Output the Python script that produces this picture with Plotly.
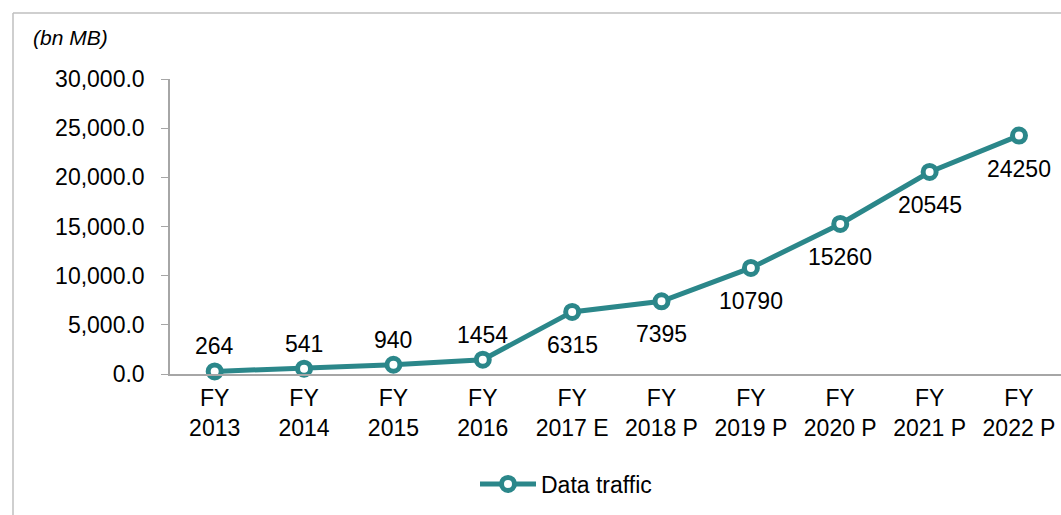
import plotly.graph_objects as go

categories = ["FY<br>2013", "FY<br>2014", "FY<br>2015", "FY<br>2016", "FY<br>2017 E",
              "FY<br>2018 P", "FY<br>2019 P", "FY<br>2020 P", "FY<br>2021 P", "FY<br>2022 P"]
values = [264, 541, 940, 1454, 6315, 7395, 10790, 15260, 20545, 24250]
label_above = [True] * 4 + [False] * 6
series_name = "Data traffic"
unit_label = "(bn MB)"

teal = "#2B878A"
W, H = 1061, 515
ml, mr, mt, mb = 170, 0, 79, 141
pw = W - ml - mr
ph = H - mt - mb
FS = 23

xs = list(range(len(categories)))

fig = go.Figure()
fig.add_trace(go.Scatter(
    x=xs, y=values, name=series_name,
    mode="lines+markers",
    line=dict(color=teal, width=5),
    marker=dict(symbol="circle", size=13, color="white", line=dict(color=teal, width=5)),
    cliponaxis=False,
))

annotations = [dict(
    x=x, y=v, xref="x", yref="y", text=str(v), showarrow=False,
    xanchor="center", yanchor="middle", yshift=25 if up else -33,
    font=dict(family="Liberation Sans, Arial", size=FS, color="#000000"),
) for x, v, up in zip(xs, values, label_above)]

annotations.append(dict(
    text="<i>" + unit_label + "</i>", xref="paper", yref="paper",
    x=(31 - ml) / pw, y=(H - mb - 37) / ph, xanchor="left", yanchor="middle",
    showarrow=False, font=dict(size=21),
))

fig.update_layout(
    width=W, height=H,
    margin=dict(l=ml, r=mr, t=mt, b=mb),
    paper_bgcolor="white", plot_bgcolor="white",
    font=dict(family="Liberation Sans, Arial", size=FS, color="#000000"),
    showlegend=True,
    legend=dict(orientation="h", x=(566 - ml) / pw, xanchor="center",
                y=-(484 - mt - ph) / ph, yanchor="middle", itemwidth=56,
                font=dict(size=FS), bgcolor="rgba(0,0,0,0)"),
    xaxis=dict(
        tickmode="array", tickvals=xs, ticktext=categories,
        range=[-0.5, 9.47], showgrid=False, zeroline=False,
        showline=True, linecolor="#A6A6A6", linewidth=1.5,
        ticks="", tickfont=dict(size=FS), ticklabelstandoff=3,
    ),
    yaxis=dict(
        range=[0, 30000], tickvals=[0, 5000, 10000, 15000, 20000, 25000, 30000],
        tickformat=",.1f", showgrid=False, zeroline=False,
        showline=True, linecolor="#A6A6A6", linewidth=1.5,
        ticks="outside", ticklen=7, tickcolor="#A6A6A6", tickfont=dict(size=FS),
        ticklabelstandoff=12,
    ),
    annotations=annotations,
    shapes=[
        dict(type="line", xref="paper", yref="paper",
             x0=(13 - ml) / pw, x1=(W + 5 - ml) / pw,
             y0=(H - mb - 13) / ph, y1=(H - mb - 13) / ph,
             line=dict(color="#BFBFBF", width=1.5)),
        dict(type="line", xref="paper", yref="paper",
             x0=(13 - ml) / pw, x1=(13 - ml) / pw,
             y0=(H - mb - 13) / ph, y1=(H - mb - H - 5) / ph,
             line=dict(color="#BFBFBF", width=1.5)),
    ],
)

fig.write_html("out.html", config={"displayModeBar": False},
               post_script="document.body.style.margin='0';")
